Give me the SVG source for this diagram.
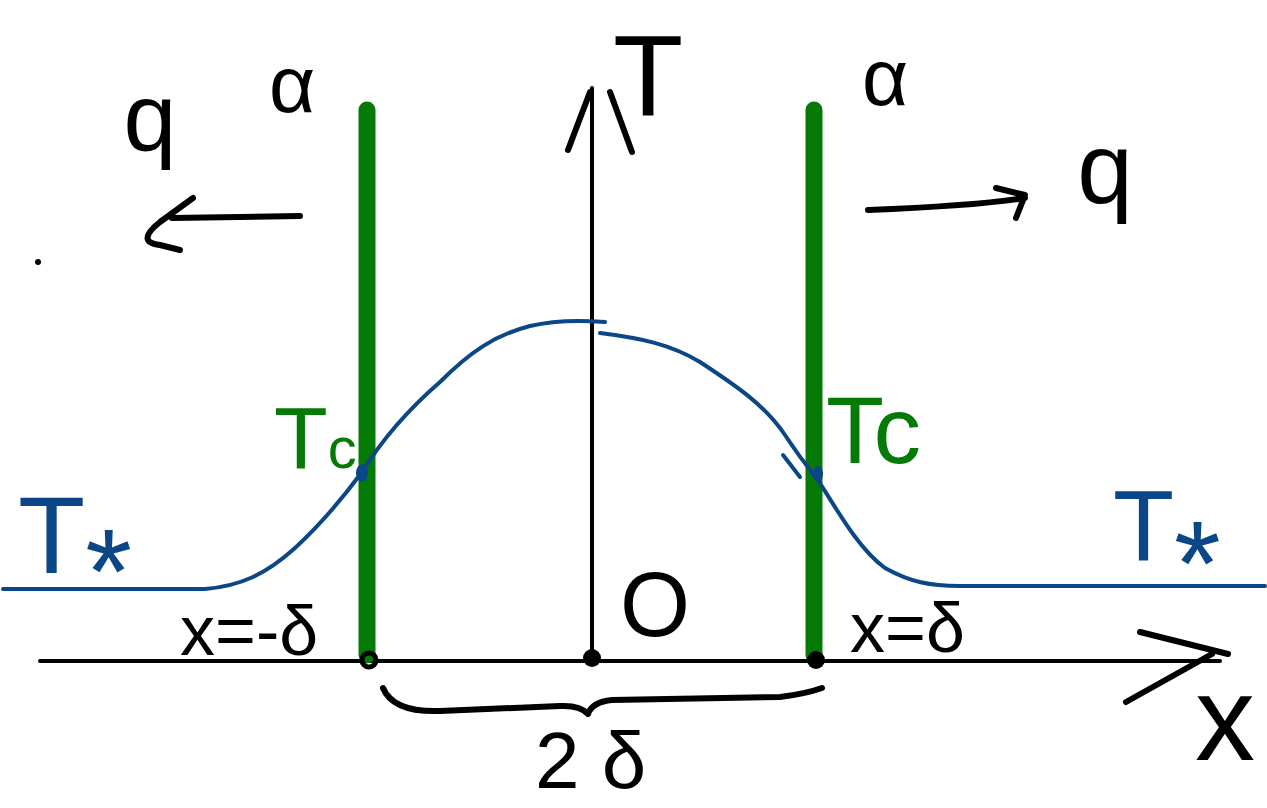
<svg xmlns="http://www.w3.org/2000/svg" width="1267" height="808" viewBox="0 0 1267 808">
<style>
.ink{fill:none;stroke:#000;stroke-width:6;stroke-linecap:round;stroke-linejoin:round}
.axis{fill:none;stroke:#000;stroke-width:4;stroke-linecap:round}
.wall{stroke:#067a06;stroke-width:17;stroke-linecap:round}
.curve{fill:none;stroke:#0b4786;stroke-width:4;stroke-linecap:round;stroke-linejoin:round}
.lbl{font-family:"Liberation Sans","DejaVu Sans",sans-serif;fill:#000}
.g{fill:#067a06}
.b{fill:#0b4786}
</style>
<rect width="1267" height="808" fill="#fff"/>
<g id="axes">
<line class="axis" x1="40" y1="661" x2="1220" y2="661"/>
<path class="ink" d="M1140,632 L1228,654 M1126,702 L1212,654"/>
<line class="axis" x1="592" y1="660" x2="592" y2="88"/>
<path class="ink" d="M568,150 L590,92 M610,92 L632,152"/>
<text class="lbl" x="648" y="116" font-size="115" text-anchor="middle">T</text>
<text class="lbl" x="1225" y="760" font-size="120" text-anchor="middle">x</text>
</g>
<g id="walls">
<line class="wall" x1="367" y1="110" x2="367" y2="655"/>
<line class="wall" x1="814" y1="110" x2="814" y2="655"/>
</g>
<g id="curve">
<path class="curve" d="M3,589 L205,589 C240,586 265,575 295,548 C320,525 345,495 362,472 C385,435 410,408 440,382 C470,352 495,335 530,326 C555,320 580,320 605,322"/>
<path class="curve" d="M600,333 C640,338 670,344 700,362 C735,385 765,405 785,435 C800,458 810,470 818,480 C840,515 860,550 885,568 C910,582 930,586 960,586 L1265,586"/>
<path class="curve" d="M783,455 L800,477"/>
<ellipse class="b" cx="362" cy="473" rx="6" ry="9"/>
<ellipse class="b" cx="818" cy="474" rx="5" ry="8"/>
</g>
<g id="points">
<circle cx="369" cy="660" r="7" fill="none" stroke="#000" stroke-width="5"/>
<circle cx="592" cy="658" r="9" fill="#000"/>
<circle cx="816" cy="660" r="9" fill="#000"/>
</g>
<g id="flux-left">
<path class="ink" d="M172,218 L300,216 M193,198 L160,222 Q135,242 160,245 L180,250"/>
<text class="lbl" x="150" y="150" font-size="95" text-anchor="middle">q</text>
<text class="lbl" x="292" y="112" font-size="80" text-anchor="middle">α</text>
<circle cx="38" cy="262" r="3" fill="#000"/>
</g>
<g id="flux-right">
<path class="ink" d="M868,210 C920,208 980,205 1025,198 M996,188 L1025,195 L1016,218"/>
<text class="lbl" x="1105" y="203" font-size="100" text-anchor="middle">q</text>
<text class="lbl" x="885" y="105" font-size="80" text-anchor="middle">α</text>
</g>
<g id="labels">
<text class="lbl g" x="274" y="468" font-size="88">T<tspan font-size="58">c</tspan></text>
<text class="lbl g" x="826" y="463" font-size="95">T<tspan font-size="95">c</tspan></text>
<text class="lbl b" x="18" y="573" font-size="110">T<tspan font-size="120" dy="40">*</tspan></text>
<text class="lbl b" x="1113" y="560" font-size="100">T<tspan font-size="120" dy="45">*</tspan></text>
<text class="lbl" x="180" y="655" font-size="70">x=-δ</text>
<text class="lbl" x="850" y="652" font-size="70">x=δ</text>
<text class="lbl" x="655" y="636" font-size="90" text-anchor="middle">O</text>
<text class="lbl" x="535" y="788" font-size="80">2 δ</text>
</g>
<g id="brace">
<path class="ink" d="M383,688 C390,705 410,712 440,711 L560,706 Q580,705 588,714 Q592,702 612,700 L780,697 Q805,694 822,688"/>
</g>
</svg>
